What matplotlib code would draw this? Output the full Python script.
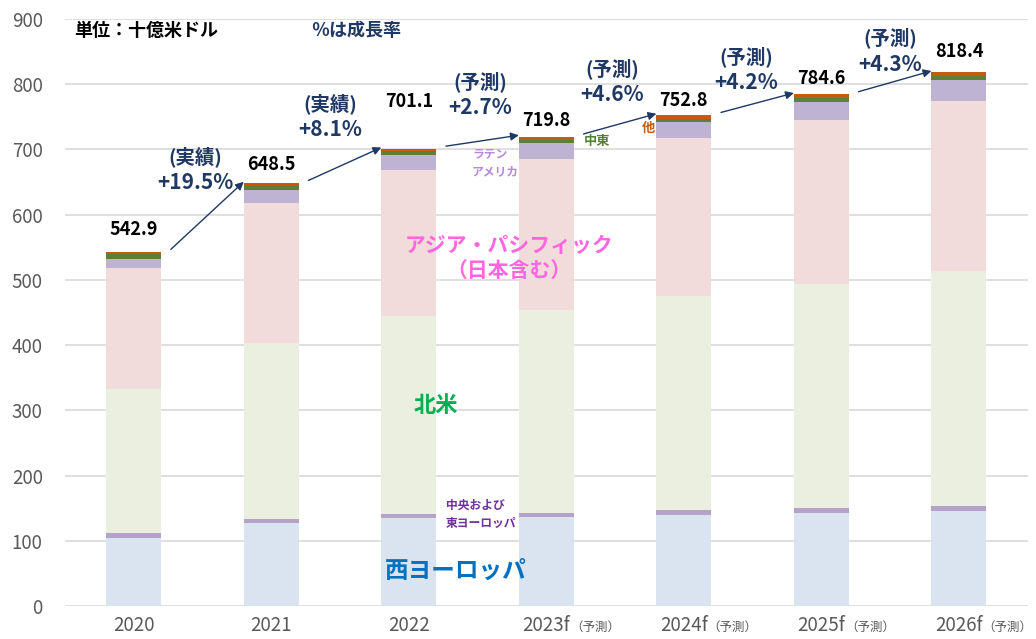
import matplotlib
matplotlib.use("Agg")
import matplotlib.pyplot as plt
import numpy as np

plt.rcParams["font.family"] = ["Noto Sans CJK JP", "DejaVu Sans"]

years = ["2020", "2021", "2022", "2023f", "2024f", "2025f", "2026f"]
forecast = [False, False, False, True, True, True, True]

# 十億米ドル
west_europe = [105, 127, 135, 137, 140, 143, 146]
central_east_europe = [7, 6, 6, 6, 7, 7, 8]
north_america = [221, 270, 304, 311, 328, 343, 359]
asia_pacific = [186, 215, 224, 232, 243, 252, 261]
latin_america = [13, 20, 23, 24, 24, 28, 33]
middle_east = [7, 7, 5.5, 5, 5.5, 6, 5]
other = [3.9, 3.5, 3.6, 4.8, 5.3, 5.6, 6.4]
totals = [542.9, 648.5, 701.1, 719.8, 752.8, 784.6, 818.4]

growth_kind = ["(実績)", "(実績)", "(予測)", "(予測)", "(予測)", "(予測)"]
growth_pct = ["+19.5%", "+8.1%", "+2.7%", "+4.6%", "+4.2%", "+4.3%"]

segments = [
    (west_europe, "#dae3f0"),
    (central_east_europe, "#b4a2c9"),
    (north_america, "#ebefdf"),
    (asia_pacific, "#f2dcdb"),
    (latin_america, "#bfb3d3"),
    (middle_east, "#5e7f3a"),
    (other, "#c55a11"),
]

NAVY = "#1f3864"
GRAY = "#595959"

fig = plt.figure(figsize=(10.36, 6.39), dpi=100)
ax = fig.add_axes([0.0627, 0.0516, 0.9293, 0.9186])

x = np.arange(len(years))
bottom = np.zeros(len(years))
for vals, color in segments:
    ax.bar(x, vals, width=0.4, bottom=bottom, color=color, zorder=2)
    bottom += np.array(vals)

ax.set_xlim(-0.5, len(years) - 0.5)
ax.set_ylim(0, 900)
ax.set_yticks(range(0, 901, 100))
ax.yaxis.grid(True, color="#d9d9d9", linewidth=1.2, zorder=0)
ax.set_axisbelow(True)
for s in ax.spines.values():
    s.set_visible(False)
ax.tick_params(axis="both", length=0, colors=GRAY, labelsize=13.5)
ax.tick_params(axis="y", pad=16)
ax.set_xticks(x)
ax.set_xticklabels([])

# year labels, forecast years get a smaller （予測）
for i, (y, f) in enumerate(zip(years, forecast)):
    ax.annotate(y, xy=(i, 0), xycoords=("data", "axes fraction"),
                xytext=(0, -18), textcoords="offset points",
                ha="center", va="baseline", fontsize=13.5, color=GRAY)
    if f:
        ax.annotate("（予測）", xy=(i, 0), xycoords=("data", "axes fraction"),
                    xytext=(17, -18), textcoords="offset points",
                    ha="left", va="baseline", fontsize=9, color=GRAY)

# totals
label_off = [34, 28, 72, 25, 23, 25, 32]
for i, t in enumerate(totals):
    ax.text(i, t + label_off[i], f"{t:.1f}", ha="center", va="center",
            fontsize=13, fontweight="bold", color="black")

# growth arrows
for i in range(len(totals) - 1):
    ax.annotate("", xy=(i + 0.8, totals[i + 1] + 2), xytext=(i + 0.27, totals[i] + 4),
                arrowprops=dict(arrowstyle="-|>", color=NAVY, lw=1.0,
                                mutation_scale=12, shrinkA=0, shrinkB=0), zorder=3)

growth_pos = [(0.45, 669), (1.43, 750), (2.52, 784), (3.48, 804), (4.45, 822), (5.5, 851)]
for (gx, gy), k, p in zip(growth_pos, growth_kind, growth_pct):
    ax.text(gx, gy + 20, k, ha="center", va="center", fontsize=14,
            fontweight="bold", color=NAVY)
    ax.text(gx, gy - 20, p, ha="center", va="center", fontsize=15,
            fontweight="bold", color=NAVY)

# header notes
ax.text(-0.43, 882, "単位：十億米ドル", ha="left", va="center", fontsize=13,
        fontweight="bold", color="black")
ax.text(1.62, 882, "％は成長率", ha="center", va="center", fontsize=13,
        fontweight="bold", color=NAVY)

# region labels
ax.text(2.73, 534, "アジア・パシフィック\n（日本含む）", ha="center", va="center",
        fontsize=15, fontweight="bold", color="#ff66e0", linespacing=1.25)
ax.text(2.2, 308, "北米", ha="center", va="center", fontsize=16,
        fontweight="bold", color="#00b050")
ax.text(2.34, 54, "西ヨーロッパ", ha="center", va="center", fontsize=17,
        fontweight="bold", color="#0070c0")
ax.text(2.27, 140, "中央および\n東ヨーロッパ", ha="left", va="center", fontsize=8.5,
        fontweight="bold", color="#7030a0", linespacing=1.5)
ax.text(2.46, 680, "ラテン\nアメリカ", ha="left", va="center", fontsize=8.5,
        fontweight="bold", color="#b48ae0", linespacing=1.5)
ax.text(3.27, 713, "中東", ha="left", va="center", fontsize=9.5,
        fontweight="bold", color="#548235")
ax.text(3.74, 733, "他", ha="center", va="center", fontsize=9.5,
        fontweight="bold", color="#c55a11")

fig.savefig("out.png", dpi=100)
